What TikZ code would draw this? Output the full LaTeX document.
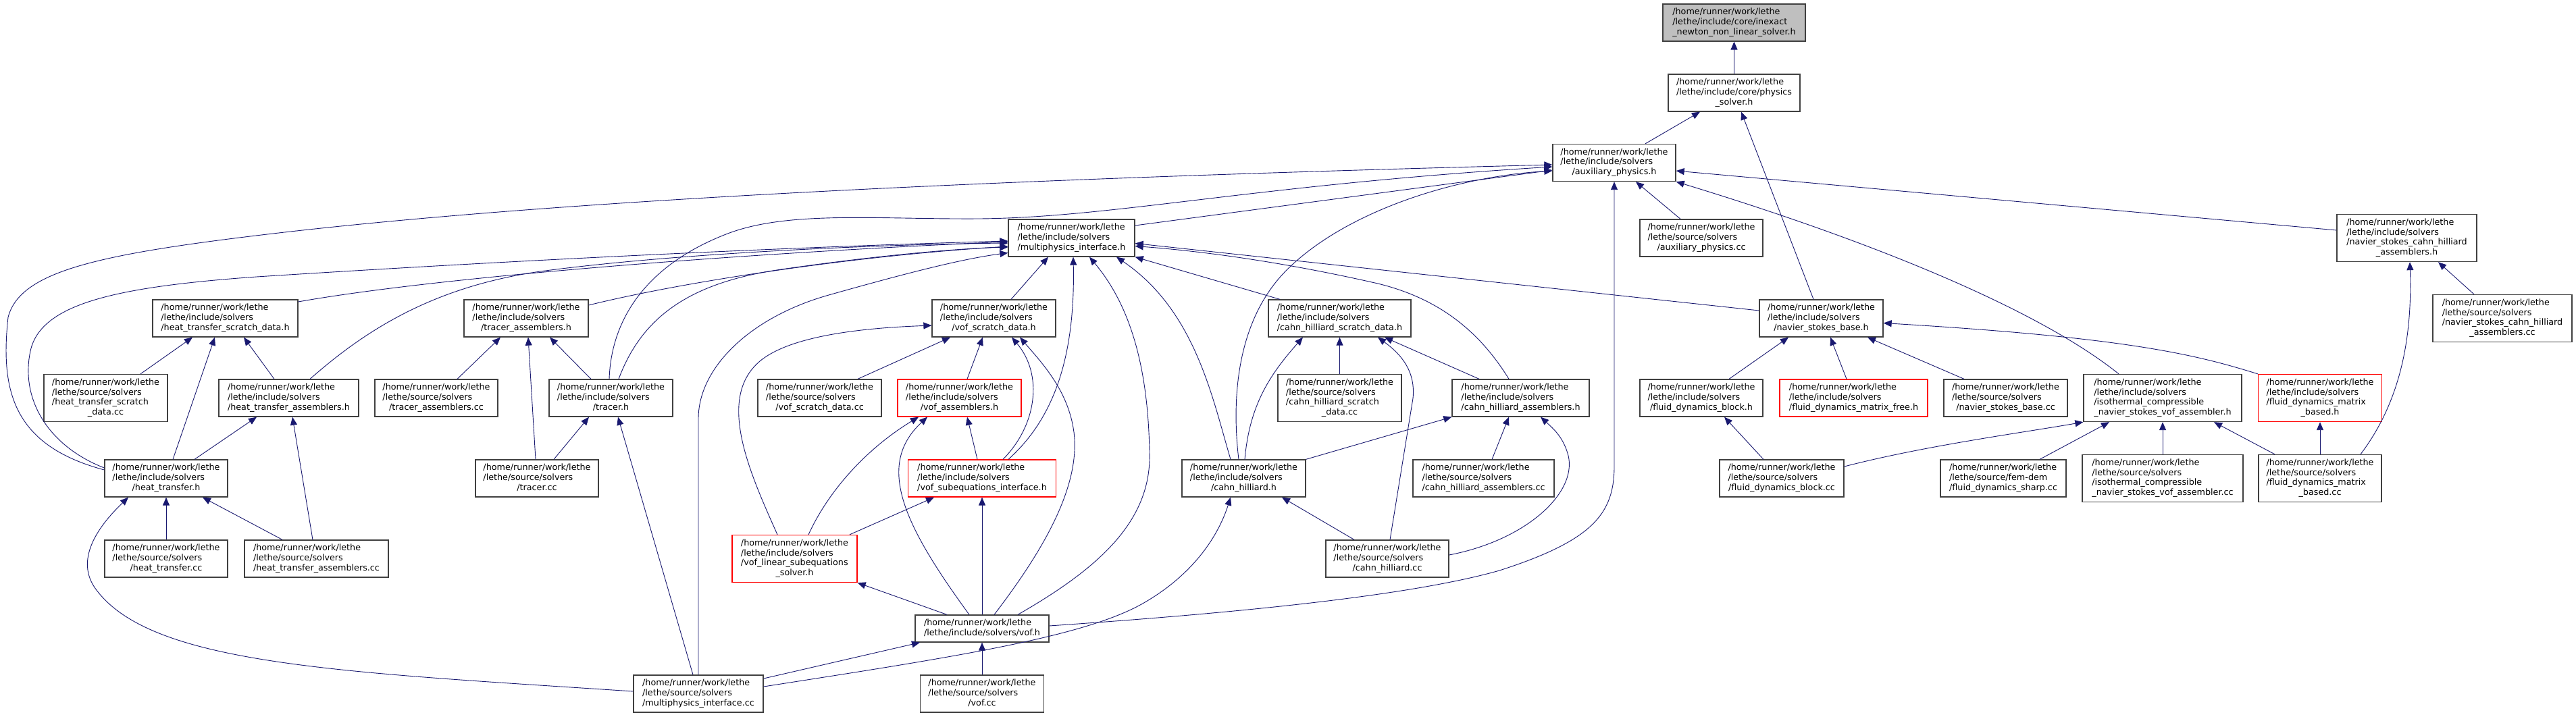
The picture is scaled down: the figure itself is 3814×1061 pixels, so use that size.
\documentclass[tikz,border=0pt]{standalone}
\usepackage{fontspec}
\setmainfont{DejaVu Sans}
\usetikzlibrary{arrows.meta}
\definecolor{edgec}{HTML}{191970}
\definecolor{boxc}{HTML}{404040}
\definecolor{redc}{HTML}{FF0000}
\definecolor{rootfill}{HTML}{BFBFBF}
\newcommand{\HRW}{/home/runner/work/lethe}
\newcommand{\LIS}{/lethe/include/solvers}
\newcommand{\LSS}{/lethe/source/solvers}
\newcommand{\TxtTwo}[2]{\begin{tabular}{@{}l@{}}#1\\\multicolumn{1}{@{}c@{}}{#2}\end{tabular}}
\newcommand{\TxtThree}[3]{\begin{tabular}{@{}l@{}}#1\\#2\\\multicolumn{1}{@{}c@{}}{#3}\end{tabular}}
\newcommand{\TxtFour}[4]{\begin{tabular}{@{}l@{}}#1\\#2\\#3\\\multicolumn{1}{@{}c@{}}{#4}\end{tabular}}
\begin{document}
\begin{tikzpicture}[x=1pt,y=-1pt,
  nbox/.style={draw=boxc,line width=1.3pt,inner sep=0pt,fill=white,font=\fontsize{12.75}{14.7}\selectfont},
  rbox/.style={nbox,draw=redc},
  conn/.style={draw=edgec,line width=0.9pt,-{Triangle[length=12pt,width=10pt]}}]
\fill[white] (0,0) rectangle (3814,1061);
\useasboundingbox (0,0) rectangle (3814,1061);
% rank 0-2
\node[nbox,fill=rootfill,minimum width=211pt,minimum height=55pt] (inexact) at (2567.5,33.5) {\TxtThree{\HRW}{/lethe/include/core/inexact}{\_newton\_non\_linear\_solver.h}};
\node[nbox,minimum width=195pt,minimum height=55pt] (physsolver) at (2567.5,137.5) {\TxtThree{\HRW}{/lethe/include/core/physics}{\_solver.h}};
\node[nbox,minimum width=182pt,minimum height=55pt] (auxh) at (2390,241) {\TxtThree{\HRW}{\LIS}{/auxiliary\_physics.h}};
% rank 3
\node[nbox,minimum width=182pt,minimum height=55pt] (auxcc) at (2519,352.5) {\TxtThree{\HRW}{\LSS}{/auxiliary\_physics.cc}};
\node[nbox,minimum width=187pt,minimum height=55pt] (mphh) at (1586.5,352.5) {\TxtThree{\HRW}{\LIS}{/multiphysics\_interface.h}};
\node[nbox,minimum width=207pt,minimum height=70pt] (nsch) at (3563.5,352.5) {\TxtFour{\HRW}{\LIS}{/navier\_stokes\_cahn\_hilliard}{\_assemblers.h}};
% rank 4
\node[nbox,minimum width=215pt,minimum height=55pt] (hts) at (333.5,471.5) {\TxtThree{\HRW}{\LIS}{/heat\_transfer\_scratch\_data.h}};
\node[nbox,minimum width=184pt,minimum height=55pt] (ta) at (779,471.5) {\TxtThree{\HRW}{\LIS}{/tracer\_assemblers.h}};
\node[nbox,minimum width=183pt,minimum height=55pt] (vsd) at (1471.5,471.5) {\TxtThree{\HRW}{\LIS}{/vof\_scratch\_data.h}};
\node[nbox,minimum width=211pt,minimum height=55pt] (chsd) at (1983.5,471.5) {\TxtThree{\HRW}{\LIS}{/cahn\_hilliard\_scratch\_data.h}};
\node[nbox,minimum width=183pt,minimum height=55pt] (nsb) at (2696.5,471.5) {\TxtThree{\HRW}{\LIS}{/navier\_stokes\_base.h}};
\node[nbox,minimum width=206pt,minimum height=70pt] (nschcc) at (3705,471.5) {\TxtFour{\HRW}{\LSS}{/navier\_stokes\_cahn\_hilliard}{\_assemblers.cc}};
% rank 5
\node[nbox,minimum width=183pt,minimum height=70pt] (htscc) at (156.5,589.5) {\TxtFour{\HRW}{\LSS}{/heat\_transfer\_scratch}{\_data.cc}};
\node[nbox,minimum width=207pt,minimum height=55pt] (hta) at (427.5,589.5) {\TxtThree{\HRW}{\LIS}{/heat\_transfer\_assemblers.h}};
\node[nbox,minimum width=182pt,minimum height=55pt] (tacc) at (646,589.5) {\TxtThree{\HRW}{\LSS}{/tracer\_assemblers.cc}};
\node[nbox,minimum width=183pt,minimum height=55pt] (tracerh) at (904.5,589.5) {\TxtThree{\HRW}{\LIS}{/tracer.h}};
\node[nbox,minimum width=183pt,minimum height=55pt] (vsdcc) at (1213.5,589.5) {\TxtThree{\HRW}{\LSS}{/vof\_scratch\_data.cc}};
\node[rbox,minimum width=183pt,minimum height=55pt] (vah) at (1420.5,589.5) {\TxtThree{\HRW}{\LIS}{/vof\_assemblers.h}};
\node[nbox,minimum width=183pt,minimum height=70pt] (chsdcc) at (1983.5,589.5) {\TxtFour{\HRW}{\LSS}{/cahn\_hilliard\_scratch}{\_data.cc}};
\node[nbox,minimum width=203pt,minimum height=55pt] (chah) at (2251.5,589.5) {\TxtThree{\HRW}{\LIS}{/cahn\_hilliard\_assemblers.h}};
\node[nbox,minimum width=182pt,minimum height=55pt] (fdbh) at (2519,589.5) {\TxtThree{\HRW}{\LIS}{/fluid\_dynamics\_block.h}};
\node[rbox,minimum width=219pt,minimum height=55pt] (fdmfh) at (2744.5,589.5) {\TxtThree{\HRW}{\LIS}{/fluid\_dynamics\_matrix\_free.h}};
\node[nbox,minimum width=183pt,minimum height=55pt] (nsbcc) at (2969.5,589.5) {\TxtThree{\HRW}{\LSS}{/navier\_stokes\_base.cc}};
\node[nbox,minimum width=234pt,minimum height=70pt] (ichh) at (3202,589.5) {\TxtFour{\HRW}{\LIS}{/isothermal\_compressible}{\_navier\_stokes\_vof\_assembler.h}};
\node[rbox,minimum width=183pt,minimum height=70pt] (fdmbh) at (3435,589.5) {\TxtFour{\HRW}{\LIS}{/fluid\_dynamics\_matrix}{\_based.h}};
% rank 6
\node[nbox,minimum width=182pt,minimum height=55pt] (hth) at (246,708.5) {\TxtThree{\HRW}{\LIS}{/heat\_transfer.h}};
\node[nbox,minimum width=182pt,minimum height=55pt] (tracercc) at (795,708.5) {\TxtThree{\HRW}{\LSS}{/tracer.cc}};
\node[rbox,minimum width=219pt,minimum height=55pt] (vsubh) at (1454,708.5) {\TxtThree{\HRW}{\LIS}{/vof\_subequations\_interface.h}};
\node[nbox,minimum width=183pt,minimum height=55pt] (chh) at (1841.5,708.5) {\TxtThree{\HRW}{\LIS}{/cahn\_hilliard.h}};
\node[nbox,minimum width=209pt,minimum height=55pt] (chacc) at (2196.5,708.5) {\TxtThree{\HRW}{\LSS}{/cahn\_hilliard\_assemblers.cc}};
\node[nbox,minimum width=184pt,minimum height=55pt] (fdbcc) at (2638,708.5) {\TxtThree{\HRW}{\LSS}{/fluid\_dynamics\_block.cc}};
\node[nbox,minimum width=186pt,minimum height=55pt] (fdscc) at (2966,708.5) {\TxtThree{\HRW}{/lethe/source/fem-dem}{/fluid\_dynamics\_sharp.cc}};
\node[nbox,minimum width=238pt,minimum height=70pt] (ichcc) at (3202,708.5) {\TxtFour{\HRW}{\LSS}{/isothermal\_compressible}{\_navier\_stokes\_vof\_assembler.cc}};
\node[nbox,minimum width=182pt,minimum height=70pt] (fdmbcc) at (3435,708.5) {\TxtFour{\HRW}{\LSS}{/fluid\_dynamics\_matrix}{\_based.cc}};
% rank 7
\node[nbox,minimum width=182pt,minimum height=55pt] (htcc) at (246,827.5) {\TxtThree{\HRW}{\LSS}{/heat\_transfer.cc}};
\node[nbox,minimum width=213pt,minimum height=55pt] (htacc) at (468.5,827.5) {\TxtThree{\HRW}{\LSS}{/heat\_transfer\_assemblers.cc}};
\node[rbox,minimum width=185pt,minimum height=70pt] (vlin) at (1176.5,827.5) {\TxtFour{\HRW}{\LIS}{/vof\_linear\_subequations}{\_solver.h}};
\node[nbox,minimum width=182pt,minimum height=55pt] (chcc) at (2054,827.5) {\TxtThree{\HRW}{\LSS}{/cahn\_hilliard.cc}};
% rank 8-9
\node[nbox,minimum width=198pt,minimum height=40pt] (vofh) at (1454,931) {\TxtTwo{\HRW}{/lethe/include/solvers/vof.h}};
\node[nbox,minimum width=192pt,minimum height=55pt] (mphcc) at (1034,1027.5) {\TxtThree{\HRW}{\LSS}{/multiphysics\_interface.cc}};
\node[nbox,minimum width=183pt,minimum height=55pt] (vofcc) at (1454,1027.5) {\TxtThree{\HRW}{\LSS}{/vof.cc}};

% edges
\draw[conn] (physsolver.north) -- (inexact.south);
\draw[conn] ([xshift=46pt]auxh.north) -- ([xshift=-50.5pt]physsolver.south);
\draw[conn] ([xshift=-11.5pt]nsb.north) -- ([xshift=10.5pt]physsolver.south);
\draw[conn] ([xshift=-31pt]auxcc.north) -- ([xshift=32pt]auxh.south);
\draw[conn] ([yshift=18.5pt]mphh.east) -- ([yshift=-11pt]auxh.west);
\draw[conn] ([yshift=12.5pt]hth.west) .. controls (20,660) and (0,580) .. (12,470) .. controls (30,400) and (150,375) .. (430,343) .. controls (900,290) and (1600,262) .. ([yshift=-3pt]auxh.west);
\draw[conn] ([yshift=15.5pt]hth.west) .. controls (70,660) and (30,590) .. (45,520) .. controls (60,450) and (170,425) .. (380,410) .. controls (800,383) and (1200,365) .. ([yshift=-4.5pt]mphh.west);
\draw[conn] ([yshift=24.5pt]hts.east) .. controls (650,410) and (1100,375) .. ([yshift=-5.5pt]mphh.west);
\draw[conn] ([xshift=31.5pt]hta.north) .. controls (540,490) and (640,425) .. (800,402) .. controls (1000,375) and (1300,362) .. ([yshift=-7.5pt]mphh.west);
\draw[conn] ([yshift=19.5pt]ta.east) .. controls (1000,420) and (1250,380) .. ([yshift=-12.5pt]mphh.west);
\draw[conn] ([xshift=11.5pt]tracerh.north) .. controls (950,470) and (1020,420) .. (1150,400) .. controls (1300,378) and (1420,368) .. ([yshift=-13.5pt]mphh.west);
\draw[conn] ([xshift=-2.5pt]tracerh.north) .. controls (905,470) and (960,390) .. (1080,345) .. controls (1170,312) and (1300,325) .. (1450,324) .. controls (1650,322) and (1850,275) .. ([yshift=-6pt]auxh.west);
\draw[conn] (mphcc.north) -- (1034,620) .. controls (1034,545) and (1110,470) .. (1227,437) .. controls (1330,408) and (1420,384) .. ([yshift=-22pt]mphh.west);
\draw[conn] ([xshift=-8pt]mphcc.north) -- ([xshift=10.5pt]tracerh.south);
\draw[conn] ([yshift=3.5pt]mphcc.west) .. controls (500,995) and (220,985) .. (140,870) .. controls (110,825) and (150,775) .. ([xshift=-56pt]hth.south);
\draw[conn] ([yshift=22.5pt]mphcc.east) -- ([xshift=-92pt]vofh.south);
\draw[conn] ([yshift=10.5pt]mphcc.east) .. controls (1400,975) and (1600,945) .. (1690,895) .. controls (1770,850) and (1805,790) .. ([xshift=-19.5pt]chh.south);
\draw[conn] ([xshift=51.5pt]htscc.north) -- ([xshift=-48.5pt]hts.south);
\draw[conn] ([xshift=10pt]hth.north) -- ([xshift=-15.5pt]hts.south);
\draw[conn] ([xshift=-21.5pt]hta.north) -- ([xshift=27.5pt]hts.south);
\draw[conn] ([xshift=42pt]hth.north) -- ([xshift=-47.5pt]hta.south);
\draw[conn] ([xshift=-5.5pt]htacc.north) -- ([xshift=5.5pt]hta.south);
\draw[conn] (htcc.north) -- (hth.south);
\draw[conn] ([xshift=-50.5pt]htacc.north) -- ([xshift=54pt]hth.south);
\draw[conn] ([xshift=31pt]tacc.north) -- ([xshift=-38pt]ta.south);
\draw[conn] ([xshift=-2pt]tracercc.north) -- ([xshift=3pt]ta.south);
\draw[conn] ([xshift=-29.5pt]tracerh.north) -- ([xshift=35pt]ta.south);
\draw[conn] ([xshift=25pt]tracercc.north) -- ([xshift=-32.5pt]tracerh.south);
\draw[conn] ([xshift=25.5pt]vsd.north) -- ([xshift=-34.5pt]mphh.south);
\draw[conn] ([xshift=-25.5pt]vlin.north) .. controls (1110,700) and (1060,590) .. (1125,535) .. controls (1175,493) and (1300,485) .. ([yshift=-10.5pt]vsd.west);
\draw[conn] ([xshift=56.5pt]vsdcc.north) -- ([xshift=-64.5pt]vsd.south);
\draw[conn] ([xshift=11.5pt]vah.north) -- ([xshift=-16.5pt]vsd.south);
\draw[conn] ([xshift=31pt]vsubh.north) .. controls (1535,630) and (1545,555) .. ([xshift=26.5pt]vsd.south);
\draw[conn] ([xshift=18pt]vofh.north) .. controls (1545,815) and (1600,720) .. (1590,640) .. controls (1582,580) and (1545,540) .. ([xshift=38.5pt]vsd.south);
\draw[conn] ([xshift=39pt]vsubh.north) .. controls (1560,620) and (1592,530) .. ([xshift=2.5pt]mphh.south);
\draw[conn] ([xshift=53pt]vofh.north) .. controls (1630,840) and (1705,770) .. (1702,670) .. controls (1700,560) and (1680,460) .. ([xshift=26.5pt]mphh.south);
\draw[conn] ([xshift=-19.5pt]chh.north) .. controls (1795,590) and (1770,460) .. ([xshift=66.5pt]mphh.south);
\draw[conn] ([xshift=-7.5pt]chh.north) .. controls (1822,580) and (1835,470) .. (1905,400) .. controls (1990,315) and (2150,262) .. ([yshift=-12pt]auxh.west);
\draw[conn] ([xshift=1.5pt]chh.north) .. controls (1850,600) and (1880,555) .. ([xshift=-54.5pt]chsd.south);
\draw[conn] ([xshift=-88.5pt]chsd.north) -- (mphh.south east);
\draw[conn] (chsdcc.north) -- (chsd.south);
\draw[conn] ([xshift=-61.5pt]chah.north) -- ([xshift=66.5pt]chsd.south);
\draw[conn] ([xshift=4pt]chcc.north) -- (2092,590) .. controls (2096,550) and (2075,525) .. ([xshift=56.5pt]chsd.south);
\draw[conn] ([xshift=-17.5pt]chah.north) .. controls (2190,490) and (2130,442) .. (2040,420) .. controls (1900,388) and (1780,372) .. ([yshift=-12pt]mphh.east);
\draw[conn] ([yshift=11.5pt]nsb.west) -- ([yshift=-8pt]mphh.east);
\draw[conn] (chh.north east) -- (chah.south west);
\draw[conn] ([xshift=12.5pt]chacc.north) -- ([xshift=-17.5pt]chah.south);
\draw[conn] ([yshift=5.5pt]chcc.east) .. controls (2260,800) and (2335,730) .. (2322,675) .. controls (2315,648) and (2300,635) .. ([xshift=29.5pt]chah.south);
\draw[conn] ([xshift=-49pt]chcc.north) -- ([xshift=56.5pt]chh.south);
\draw[conn] ([yshift=4pt]vofh.east) .. controls (1800,910) and (2080,885) .. (2220,845) .. controls (2360,800) and (2390,760) .. (2390,690) -- (auxh.south);
\draw[conn] ([xshift=41pt]fdbh.north) -- ([xshift=-48.5pt]nsb.south);
\draw[conn] ([xshift=-10.5pt]fdmfh.north) -- ([xshift=13.5pt]nsb.south);
\draw[conn] ([xshift=-61.5pt]nsbcc.north) -- ([xshift=68.5pt]nsb.south);
\draw[conn] (fdmbh.north west) .. controls (3250,525) and (3150,500) .. ([yshift=-7pt]nsb.east);
\draw[conn] ([xshift=-27pt]fdbcc.north) -- ([xshift=34pt]fdbh.south);
\draw[conn] ([yshift=17.5pt]fdbcc.east) .. controls (2850,660) and (3000,640) .. (ichh.south west);
\draw[conn] ([xshift=54pt]fdscc.north) -- ([xshift=-79pt]ichh.south);
\draw[conn] (ichcc.north) -- (ichh.south);
\draw[conn] ([xshift=-67pt]fdmbcc.north) -- ([xshift=76pt]ichh.south);
\draw[conn] (fdmbcc.north) -- (fdmbh.south);
\draw[conn] ([xshift=60pt]fdmbcc.north) .. controls (3550,600) and (3572,510) .. ([xshift=4.5pt]nsch.south);
\draw[conn] ([xshift=-42pt]nschcc.north) -- ([xshift=46.5pt]nsch.south);
\draw[conn] ([yshift=11.5pt]nsch.west) -- ([yshift=-12pt]auxh.east);
\draw[conn] ([xshift=-65pt]ichh.north) .. controls (3020,460) and (2780,360) .. (auxh.south east);
\draw[conn] ([xshift=20.5pt]vlin.north) .. controls (1230,720) and (1290,660) .. ([xshift=-60.5pt]vah.south);
\draw[conn] ([xshift=-19pt]vofh.north) .. controls (1340,780) and (1295,690) .. ([xshift=-47.5pt]vah.south);
\draw[conn] ([xshift=-7pt]vsubh.north) -- ([xshift=11.5pt]vah.south);
\draw[conn] ([xshift=81.5pt]vlin.north) -- ([xshift=-71pt]vsubh.south);
\draw[conn] (vofh.north) -- (vsubh.south);
\draw[conn] ([xshift=-52pt]vofh.north) -- (vlin.south east);
\draw[conn] (vofcc.north) -- (vofh.south);
\end{tikzpicture}
\end{document}
